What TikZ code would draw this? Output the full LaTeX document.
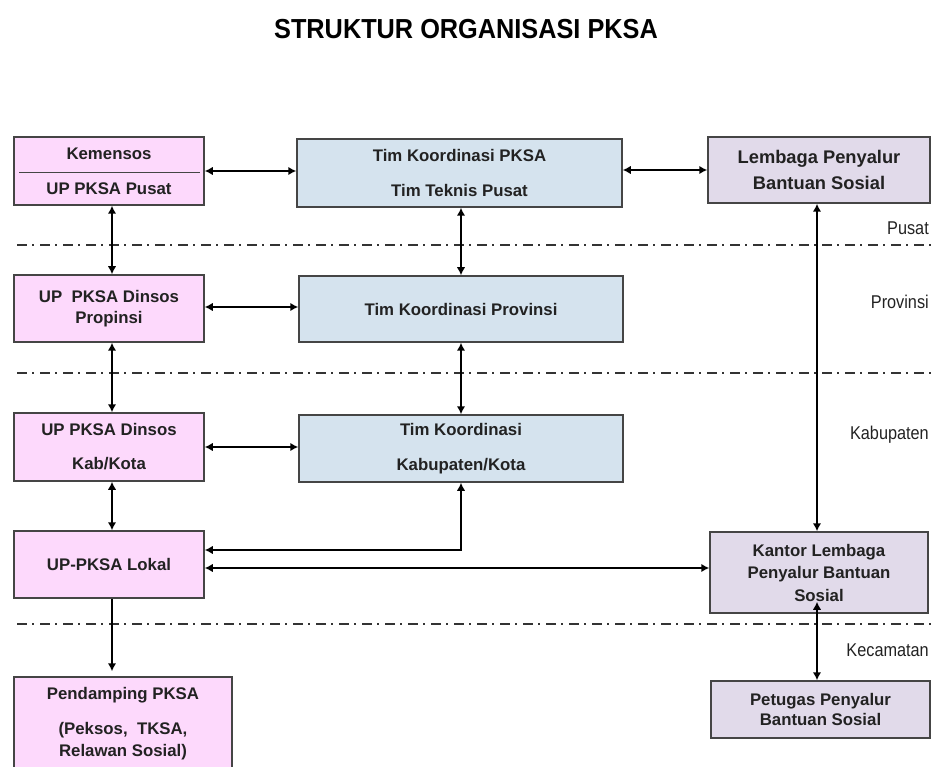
\documentclass[tikz,border=0pt]{standalone}
\usepackage{fontspec}
\setmainfont{Liberation Sans}
\newfontfamily\lblfont{Liberation Sans}[FakeStretch=0.88]
\newfontfamily\ttlfont{Liberation Sans}[FakeStretch=0.92]
\usetikzlibrary{arrows.meta}
\definecolor{pinkbox}{HTML}{FDD9FC}
\definecolor{bluebox}{HTML}{D5E3EE}
\definecolor{lavbox}{HTML}{E1DAEA}
\definecolor{edgec}{HTML}{454545}
\definecolor{txt}{HTML}{222222}
\begin{document}
\begin{tikzpicture}[x=1pt,y=-1pt,
  box/.style={draw=edgec, line width=1.5pt, align=center, inner sep=0pt, text=txt,
    font=\bfseries\fontsize{16.8}{20}\selectfont},
  pinkb/.style={box, fill=pinkbox},
  blueb/.style={box, fill=bluebox},
  lavb/.style={box, fill=lavbox},
  tipc/.tip={Latex[length=8pt,width=8.5pt]},
  arr/.style={line width=2.4pt, black, tipc-tipc},
  arrone/.style={line width=2.4pt, black, -tipc},
  sepline/.style={draw=black!80, line width=2pt, dash pattern=on 10pt off 5pt on 2pt off 6pt},
  lbl/.style={anchor=east, inner sep=0pt, text=txt, font=\lblfont\fontsize{18.5}{22}\selectfont}
]
\useasboundingbox (0,0) rectangle (932,767);

% title
\node[font=\ttlfont\bfseries\fontsize{27.5}{32}\selectfont, text=black] (title) at (466,29) {STRUKTUR ORGANISASI PKSA};

% separator lines
\draw[sepline] (17,245) -- (932,245);
\draw[sepline] (17,373) -- (932,373);
\draw[sepline] (17,624) -- (932,624);

% level labels
\node[lbl] (lpusat) at (929,228) {Pusat};
\node[lbl] (lprov) at (929,302) {Provinsi};
\node[lbl] (lkab) at (929,435) {Kabupaten};
\node[lbl] (lkec) at (929,650) {Kecamatan};

% boxes
\node[pinkb, minimum width=190pt, minimum height=68pt] (kem) at (109,171)
  {Kemensos\\[15pt]UP PKSA Pusat};
\draw[edgec, line width=1.3pt] ([xshift=6pt,yshift=-1.5pt]kem.west) -- ([xshift=-5pt,yshift=-1.5pt]kem.east);

\node[blueb, minimum width=325pt, minimum height=68pt] (tkp) at (459.5,173)
  {Tim Koordinasi PKSA\\[15pt]Tim Teknis Pusat};
\node[lavb, minimum width=222pt, minimum height=66pt, font=\bfseries\fontsize{18.3}{22}\selectfont] (lem) at (819,170)
  {Lembaga Penyalur\\[4pt]Bantuan Sosial};

\node[pinkb, minimum width=190pt, minimum height=67pt] (prop) at (109,308.5)
  {UP\ \ PKSA Dinsos\\[1pt]Propinsi};
\node[blueb, minimum width=324pt, minimum height=66pt] (tprov) at (461,309)
  {Tim Koordinasi Provinsi};

\node[pinkb, minimum width=190pt, minimum height=68pt] (kab) at (109,447)
  {UP PKSA Dinsos\\[14pt]Kab/Kota};
\node[blueb, minimum width=324pt, minimum height=67pt] (tkab) at (461,448.5)
  {Tim Koordinasi\\[15pt]Kabupaten/Kota};

\node[pinkb, minimum width=190pt, minimum height=67pt] (lok) at (109,564.5)
  {UP-PKSA Lokal};
\node[lavb, minimum width=218pt, minimum height=81pt] (kan) at (819,572.5)
  {Kantor Lembaga\\[2.5pt]Penyalur Bantuan\\[2.5pt]Sosial};

\node[lavb, minimum width=219pt, minimum height=57pt] (pet) at (820.5,709.5)
  {Petugas Penyalur\\[-0.5pt]Bantuan Sosial};
\node[pinkb, minimum width=218pt, minimum height=93pt] (pend) at (123,723.5)
  {Pendamping PKSA\\[15pt](Peksos,\ \ TKSA,\\[2pt]Relawan Sosial)};

% connectors
\draw[arr] (kem.east) -- (kem.east -| tkp.west);
\draw[arr] (lem.west -| tkp.east) -- (lem.west);
\draw[arr] ([xshift=3pt]kem.south) -- ([xshift=3pt]prop.north);
\draw[arr] (tprov.north |- tkp.south) -- (tprov.north);
\draw[arr] ([xshift=-2pt]lem.south) -- ([xshift=-2pt]kan.north);

\draw[arr] ([yshift=1.5pt]prop.east) -- ([yshift=1.5pt]prop.east -| tprov.west);
\draw[arr] ([xshift=3pt]prop.south) -- ([xshift=3pt]kab.north);
\draw[arr] (tprov.south) -- (tkab.north);

\draw[arr] (kab.east) -- (kab.east -| tkab.west);
\draw[arr] ([xshift=3pt]kab.south) -- ([xshift=3pt]lok.north);
\draw[arr] ([yshift=14.5pt]lok.east) -| (tkab.south);
\draw[arr] ([yshift=-3.5pt]lok.east) -- ([yshift=-3.5pt]lok.east -| kan.west);

\draw[arr] ([xshift=-3.5pt]pet.north) -- ([xshift=-2pt,yshift=12pt]kan.south);
\draw[arrone] ([xshift=3pt]lok.south) -- ([xshift=3pt,yshift=5pt]lok.south |- pend.north);
\end{tikzpicture}
\end{document}
